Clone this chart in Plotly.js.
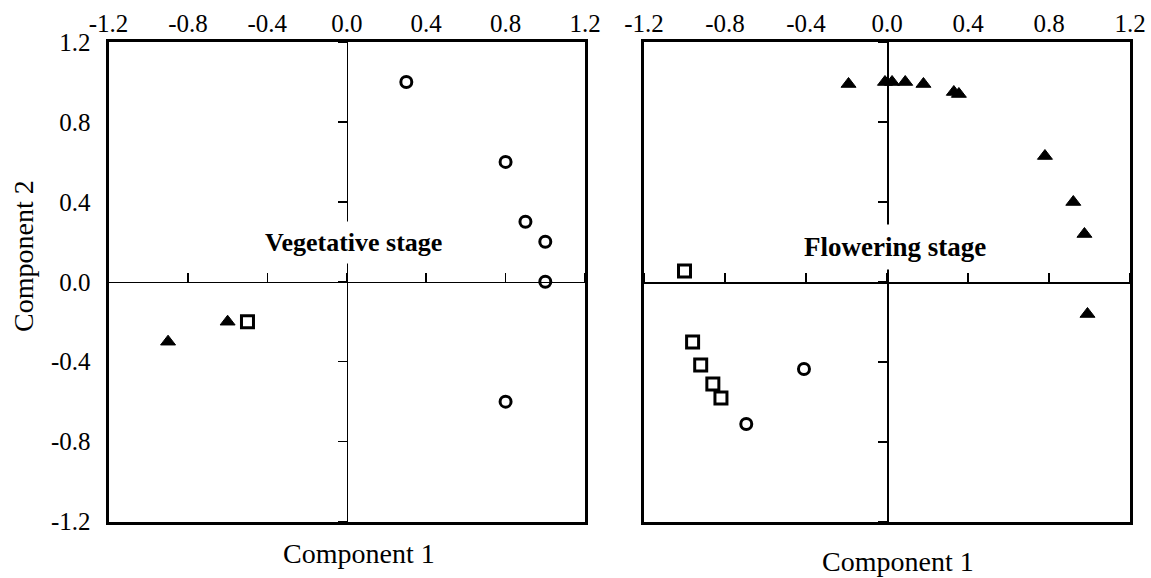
<!DOCTYPE html>
<html><head><meta charset="utf-8">
<script src="https://cdn.plot.ly/plotly-3.0.1.min.js"></script>
<style>html,body{margin:0;padding:0;background:#fff}</style>
</head><body><div id="chart" style="width:1151px;height:578px"></div>
<script>
// ---- tick labels ----
const tickVals = [-1.2, -0.8, -0.4, 0, 0.4, 0.8, 1.2];
const tickText = ["-1.2", "-0.8", "-0.4", "0.0", "0.4", "0.8", "1.2"];
const innerTickVals = [-1.2, -0.8, -0.4, 0, 0.4, 0.8, 1.2];

// ---- Vegetative stage ----
const vegCircX = [0.3, 0.8, 0.9, 1.0, 1.0, 0.8];
const vegCircY = [1.0, 0.6, 0.3, 0.2, 0.0, -0.6];
const vegTriX = [-0.9, -0.6];
const vegTriY = [-0.3, -0.2];
const vegSqX = [-0.5];
const vegSqY = [-0.2];

// ---- Flowering stage ----
const flTriX = [-0.19, -0.01, 0.025, 0.09, 0.18, 0.33, 0.355, 0.78, 0.92, 0.975, 0.99];
const flTriY = [0.99, 1.0, 1.0, 1.0, 0.99, 0.95, 0.94, 0.63, 0.40, 0.24, -0.16];
const flSqX = [-1.0, -0.96, -0.92, -0.86, -0.82];
const flSqY = [0.055, -0.30, -0.415, -0.51, -0.58];
const flCircX = [-0.41, -0.695];
const flCircY = [-0.435, -0.71];

const W = 1151, H = 578;
const SERIF = "Liberation Serif, Times New Roman, serif";
const px = v => v / W, py = v => 1 - v / H;

const xDomL = [px(108.5), px(585)], yDomL = [py(521.5), py(42)];
const xDomR = [px(644), px(1130)], yDomR = [py(522), py(42)];
const mid = d => (d[0] + d[1]) / 2;

const circ = {symbol: 'circle-open', size: 11, color: '#000', line: {width: 3, color: '#000'}};
const sq = {symbol: 'square-open', size: 12, color: '#000', line: {width: 3, color: '#000'}};
const tri = {symbol: 'triangle-up', size: 13, color: '#000', line: {width: 1, color: '#000'}};

function pts(x, y, marker, xa, ya) {
  return {type: 'scatter', mode: 'markers', x: x, y: y, marker: marker, xaxis: xa, yaxis: ya,
          showlegend: false, hoverinfo: 'x+y', cliponaxis: false};
}

const data = [
  pts(vegCircX, vegCircY, circ, 'x', 'y'),
  pts(vegTriX, vegTriY, tri, 'x', 'y'),
  pts(vegSqX, vegSqY, sq, 'x', 'y'),
  pts(flTriX, flTriY, tri, 'x2', 'y2'),
  pts(flSqX, flSqY, sq, 'x2', 'y2'),
  pts(flCircX, flCircY, circ, 'x2', 'y2'),
  {type: 'scatter', x: [], y: [], xaxis: 'x3', yaxis: 'y3', showlegend: false},
  {type: 'scatter', x: [], y: [], xaxis: 'x4', yaxis: 'y4', showlegend: false}
];

const frameX = (dom, showLabels) => ({
  domain: dom, range: [-1.2, 1.2], side: 'top', showline: true, mirror: true,
  linewidth: 3, linecolor: '#000', ticks: '', showgrid: false, zeroline: false,
  tickmode: 'array', tickvals: tickVals, ticktext: tickText, showticklabels: showLabels,
  tickfont: {family: SERIF, size: 25, color: '#000'}, ticklabelstandoff: -3, fixedrange: true
});
const frameY = (dom, showLabels) => ({
  domain: dom, range: [-1.2, 1.2], showline: true, mirror: true,
  linewidth: 3, linecolor: '#000', ticks: '', showgrid: false, zeroline: false,
  tickmode: 'array', tickvals: tickVals, ticktext: tickText, showticklabels: showLabels,
  tickfont: {family: SERIF, size: 25, color: '#000'}, ticklabelstandoff: 10, fixedrange: true
});
const zeroX = (base, dom, pos) => ({
  overlaying: base, anchor: 'free', position: pos, domain: dom, range: [-1.2, 1.2],
  side: 'top', showline: true, linewidth: 1.6, linecolor: '#000', ticks: 'outside',
  ticklen: 9, tickwidth: 1.6, tickcolor: '#000', tickmode: 'array', tickvals: innerTickVals,
  showticklabels: false, showgrid: false, zeroline: false, fixedrange: true
});
const zeroY = (base, dom, pos) => ({
  overlaying: base, anchor: 'free', position: pos, domain: dom, range: [-1.2, 1.2],
  side: 'left', showline: true, linewidth: 1.6, linecolor: '#000', ticks: 'outside',
  ticklen: 9, tickwidth: 1.6, tickcolor: '#000', tickmode: 'array', tickvals: innerTickVals,
  showticklabels: false, showgrid: false, zeroline: false, fixedrange: true
});

const layout = {
  width: W, height: H, margin: {l: 0, r: 0, t: 0, b: 0},
  paper_bgcolor: '#fff', plot_bgcolor: 'rgba(0,0,0,0)', showlegend: false,
  xaxis: Object.assign(frameX(xDomL, true), {anchor: 'y'}),
  yaxis: Object.assign(frameY(yDomL, true), {anchor: 'x'}),
  xaxis2: Object.assign(frameX(xDomR, true), {anchor: 'y2'}),
  yaxis2: Object.assign(frameY(yDomR, false), {anchor: 'x2'}),
  xaxis3: zeroX('x', xDomL, mid(yDomL)),
  yaxis3: zeroY('y', yDomL, mid(xDomL)),
  xaxis4: zeroX('x2', xDomR, mid(yDomR)),
  yaxis4: zeroY('y2', yDomR, mid(xDomR)),
  annotations: [
    {text: 'Vegetative stage', xref: 'x', yref: 'y', x: 0.035, y: 0.195, showarrow: false,
     xanchor: 'center', yanchor: 'middle',
     font: {family: SERIF, size: 26, color: '#000', weight: 'bold'}, bgcolor: '#fff', borderpad: 6},
    {text: 'Flowering stage', xref: 'x2', yref: 'y2', x: 0.04, y: 0.175, showarrow: false,
     xanchor: 'center', yanchor: 'middle',
     font: {family: SERIF, size: 27, color: '#000', weight: 'bold'}, bgcolor: '#fff', borderpad: 7},
    {text: 'Component 1', xref: 'paper', yref: 'paper', x: px(359), y: py(553), showarrow: false,
     xanchor: 'center', yanchor: 'middle', font: {family: SERIF, size: 28, color: '#000'}},
    {text: 'Component 1', xref: 'paper', yref: 'paper', x: px(898), y: py(561), showarrow: false,
     xanchor: 'center', yanchor: 'middle', font: {family: SERIF, size: 28, color: '#000'}},
    {text: 'Component 2', xref: 'paper', yref: 'paper', x: px(23), y: py(256), showarrow: false,
     xanchor: 'center', yanchor: 'middle', textangle: -90,
     font: {family: SERIF, size: 28, color: '#000'}}
  ]
};

Plotly.newPlot('chart', data, layout, {displayModeBar: false, staticPlot: true});
</script></body></html>
